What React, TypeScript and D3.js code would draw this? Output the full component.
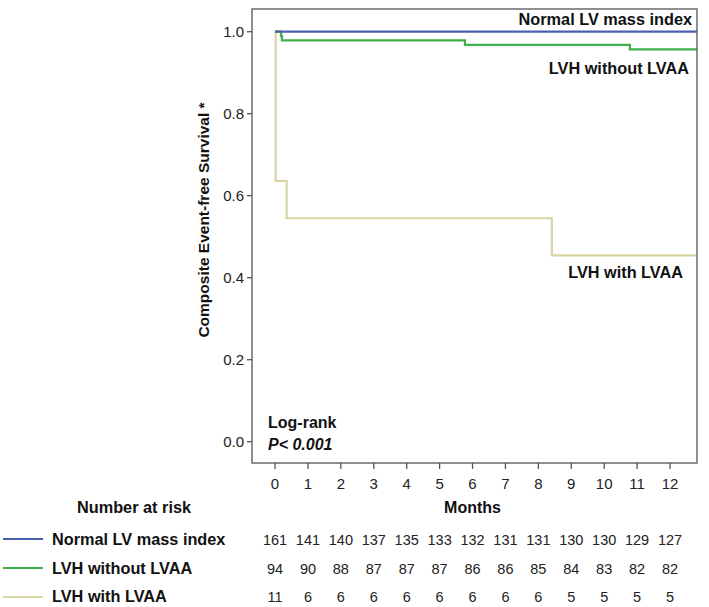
import React from "react";
import * as d3 from "d3";

const months = [0, 1, 2, 3, 4, 5, 6, 7, 8, 9, 10, 11, 12];
const yTicks = [0, 0.2, 0.4, 0.6, 0.8, 1.0];

const groupNames = ["Normal LV mass index", "LVH without LVAA", "LVH with LVAA"];
const groupColors = ["#4b5fb0", "#3fae4c", "#d9d6a3"];

// step curves: [month, survival]
const normalCurve: [number, number][] = [[0, 1.0], [12.82, 1.0]];
const lvhCurve: [number, number][] = [
  [0, 1.0], [0.18, 0.989], [0.21, 0.979], [5.77, 0.968], [10.78, 0.957], [12.82, 0.957],
];
const lvaaCurve: [number, number][] = [
  [0, 1.0], [0.02, 0.636], [0.355, 0.545], [8.41, 0.4545], [12.82, 0.4545],
];
const curves = [normalCurve, lvhCurve, lvaaCurve];

const atRiskNormal = [161, 141, 140, 137, 135, 133, 132, 131, 131, 130, 130, 129, 127];
const atRiskLvh = [94, 90, 88, 87, 87, 87, 86, 86, 85, 84, 83, 82, 82];
const atRiskLvaa = [11, 6, 6, 6, 6, 6, 6, 6, 6, 5, 5, 5, 5];
const atRisk = [atRiskNormal, atRiskLvh, atRiskLvaa];

const curveLabels = [
  { text: "Normal LV mass index", x: 692, y: 25 },
  { text: "LVH without LVAA", x: 689, y: 74 },
  { text: "LVH with LVAA", x: 683, y: 278 },
];

const FONT = "'Liberation Sans', Arial, Helvetica, sans-serif";

export default function App() {
  const left = 252, right = 697, top = 9, bottom = 463;
  const x = d3.scaleLinear().domain([-0.7, 12.82]).range([left, right]);
  const y = d3.scaleLinear().domain([0, 1]).range([441.7, 31.7]);
  const line = d3
    .line<[number, number]>()
    .x((d) => x(d[0]))
    .y((d) => y(d[1]))
    .curve(d3.curveStepAfter);

  const rowY = [545, 574, 602];
  const swatchY = [539, 568, 597];

  return (
    <svg
      width={709}
      height={607}
      style={{ position: "absolute", left: 0, top: 0, background: "#fff" }}
      fontFamily={FONT}
    >
      <rect x={0} y={0} width={709} height={607} fill="#fff" />
      {/* curves */}
      {curves.map((c, i) => (
        <path key={i} d={line(c) || ""} fill="none" stroke={groupColors[i]} strokeWidth={2.2} />
      )).reverse()}
      {/* frame */}
      <rect x={left} y={top} width={right - left} height={bottom - top} fill="none" stroke="#555" strokeWidth={1.3} />
      {/* y ticks */}
      {yTicks.map((t) => (
        <g key={t}>
          <line x1={left - 5} x2={left} y1={y(t)} y2={y(t)} stroke="#555" strokeWidth={1.3} />
          <text x={left - 8} y={y(t) + 5} textAnchor="end" fontSize={15} fill="#222">
            {t.toFixed(1)}
          </text>
        </g>
      ))}
      {/* x ticks */}
      {months.map((m) => (
        <g key={m}>
          <line x1={x(m)} x2={x(m)} y1={bottom} y2={bottom + 6} stroke="#555" strokeWidth={1.3} />
          <text x={x(m)} y={489} textAnchor="middle" fontSize={15} fill="#222">
            {m}
          </text>
        </g>
      ))}
      <text x={x(6)} y={513} textAnchor="middle" fontSize={16} fontWeight="bold" fill="#111">
        Months
      </text>
      <text
        transform={`translate(209, 220) rotate(-90)`}
        textAnchor="middle"
        fontSize={15.5}
        fontWeight="bold"
        fill="#111"
      >
        Composite Event-free Survival *
      </text>
      {/* curve labels */}
      {curveLabels.map((l) => (
        <text key={l.text} x={l.x} y={l.y} textAnchor="end" fontSize={16.3} fontWeight="bold" fill="#111">
          {l.text}
        </text>
      ))}
      <text x={268} y={428} fontSize={16} fontWeight="bold" fill="#111">Log-rank</text>
      <text x={268} y={450} fontSize={16} fontWeight="bold" fontStyle="italic" fill="#111">P&lt; 0.001</text>
      {/* number at risk */}
      <text x={77} y={513} fontSize={16.3} fontWeight="bold" fill="#111">Number at risk</text>
      {groupNames.map((g, i) => (
        <g key={g}>
          <line x1={3} x2={43} y1={swatchY[i]} y2={swatchY[i]} stroke={groupColors[i]} strokeWidth={2.2} />
          <text x={52} y={rowY[i]} fontSize={16.3} fontWeight="bold" fill="#111">{g}</text>
          {atRisk[i].map((v, j) => (
            <text key={j} x={x(months[j])} y={rowY[i]} textAnchor="middle" fontSize={14.5} fill="#222">
              {v}
            </text>
          ))}
        </g>
      ))}
    </svg>
  );
}
